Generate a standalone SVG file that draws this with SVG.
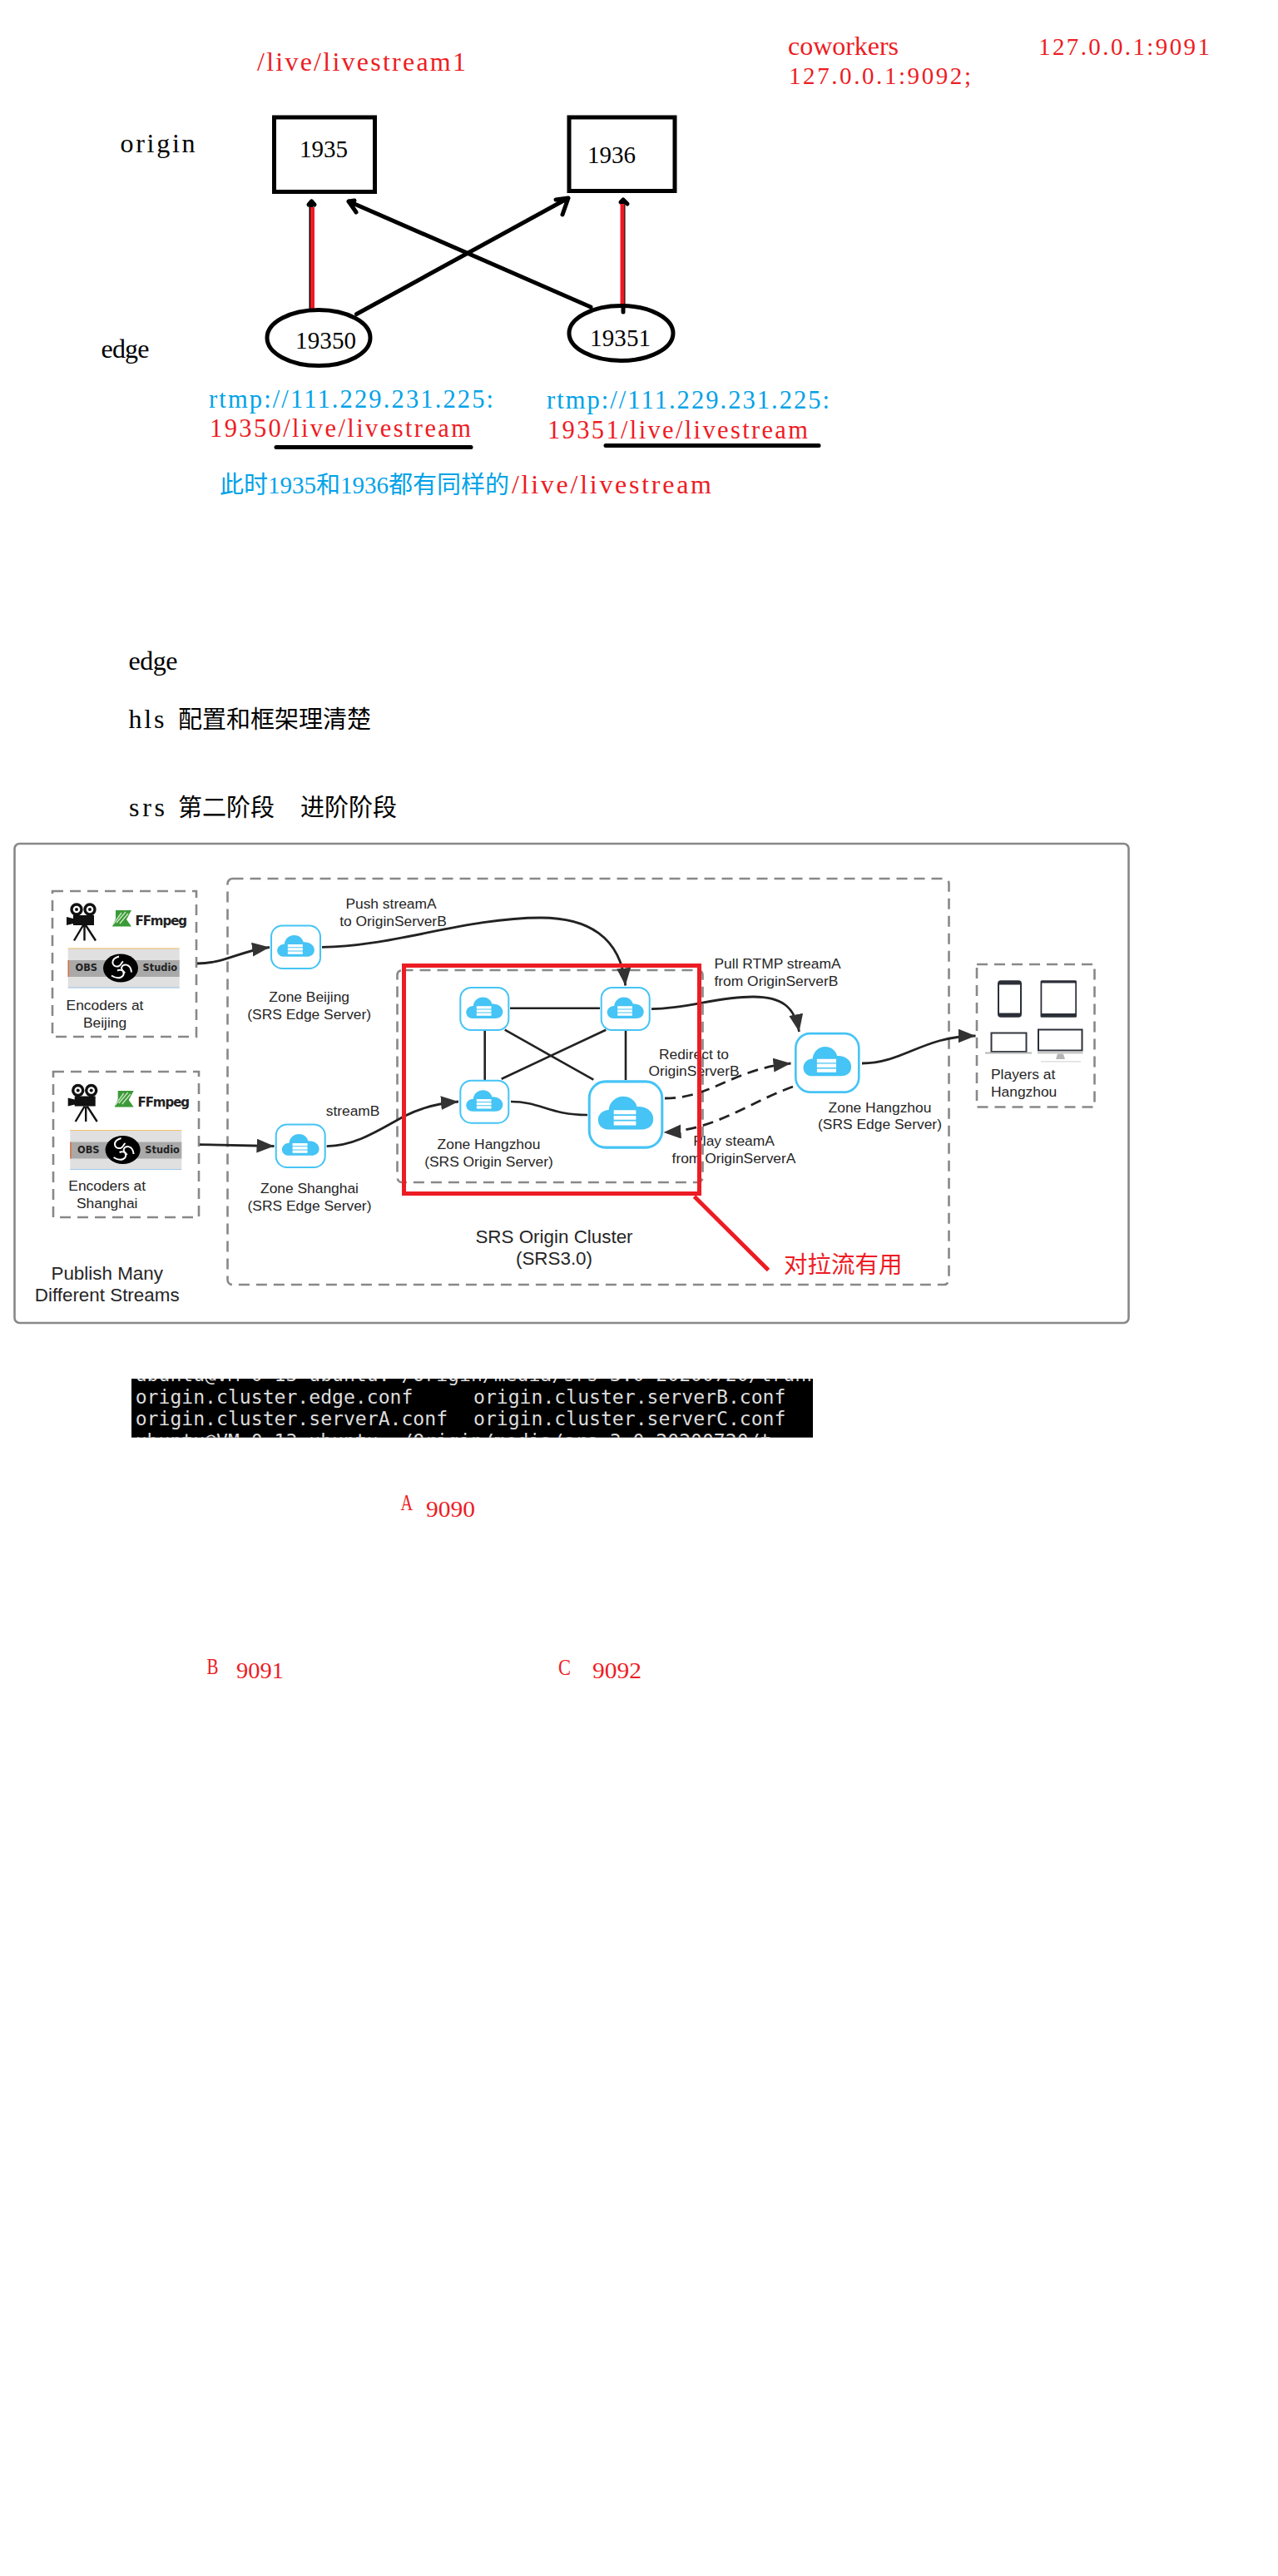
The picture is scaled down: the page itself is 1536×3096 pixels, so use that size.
<svg xmlns="http://www.w3.org/2000/svg" width="1536" height="3096" viewBox="0 0 1536 3096">
<style>
text{white-space:pre}
.s{font-family:"Liberation Serif","Noto Sans CJK SC",serif;font-size:29px;fill:#000}
.w{font-size:32px}
.x{font-size:30.5px}
.r{fill:#ed1c24}
.b{fill:#00a2e8}
.d{font-family:"Liberation Sans",Arial,sans-serif;font-size:17.4px;fill:#262626}
.m{text-anchor:middle}
.t{font-family:"DejaVu Sans Mono",monospace;font-size:23.1px;fill:#dcdcdc}
.h{fill:none;stroke:#000;stroke-width:5}
.hl{fill:none;stroke:#000;stroke-width:5;stroke-linecap:round;stroke-linejoin:round}
.rl{fill:none;stroke:#ed1c24;stroke-width:5}
.dash{fill:none;stroke:#888;stroke-width:2.6;stroke-dasharray:13 8}
.c{fill:none;stroke:#222;stroke-width:2.8}
.cd{fill:none;stroke:#222;stroke-width:2.8;stroke-dasharray:13 8}
.l{fill:none;stroke:#222;stroke-width:2.6}
.ob1{font-family:"DejaVu Sans",sans-serif;font-weight:bold;font-size:11.4px;fill:#222}
.ff{font-family:"DejaVu Sans",sans-serif;font-weight:bold;font-size:15px;fill:#222}
</style>
<defs>
<marker id="ah" markerUnits="userSpaceOnUse" markerWidth="24" markerHeight="18" refX="21" refY="8.5" orient="auto"><path d="M0 0L21 8.5L0 17Z" fill="#333"/></marker>
<symbol id="srv" viewBox="0 0 60 53" preserveAspectRatio="none" overflow="visible">
<rect x="1" y="1" width="58" height="51" rx="13" fill="#fff" stroke="#45c4f5" stroke-width="2"/>
<path d="M16 38C11 38 8 34.5 8 30.5C8 26.5 12 23 16.5 23C17 17 22 12.5 28 12.5C33.5 12.5 38 16 39 20.5C46 20 52 24 52 30C52 35 48 38 43 38Z" fill="#45c4f5"/>
<path d="M20.5 23.2H38.2V26.4H20.5ZM20.5 27.4H38.2V30.6H20.5ZM20.5 31.6H38.2V34.8H20.5Z" fill="#fff"/>
</symbol>
<g id="cam">
<circle cx="12" cy="8" r="6" fill="#fff" stroke="#111" stroke-width="3.4"/><circle cx="28" cy="8" r="6" fill="#fff" stroke="#111" stroke-width="3.4"/>
<circle cx="12" cy="8" r="2" fill="#111"/><circle cx="28" cy="8" r="2" fill="#111"/>
<path d="M8 15H33V27H8ZM0 17L8 19V25L0 27Z" fill="#111"/>
<path d="M20 27L9 45.5M21.5 27V45.5M23 27L35 45.5" fill="none" stroke="#111" stroke-width="2.4"/>
</g>
<g id="ffl">
<path d="M4 0H23L17 11L23 19.5H0L4 10Z" fill="#3c9a38"/>
<path d="M5 15L16 2M9 16L19 4M1 17L11 3" stroke="#c9e6c0" stroke-width="1.4" fill="none"/>
</g>
<g id="obs">
<rect x="0" y="0" width="134" height="48" fill="#e0e0e0"/>
<rect x="0" y="14.5" width="134" height="20" fill="#a9a9a9"/>
<rect x="0" y="0" width="134" height="1" fill="#f5c26b"/>
<rect x="0" y="47" width="134" height="1" fill="#9cc6ea"/>
<rect x="0" y="14.5" width="1.3" height="20" fill="#e8682c"/>
<ellipse cx="63.3" cy="24" rx="21" ry="17" fill="#000"/>
<g transform="translate(63.3 24)" fill="none" stroke="#fff" stroke-width="2"><path d="M-2 -14C-13 -11 -11 -1 -3 -2C1 -3 0 -6 3 -8"/><path d="M13 5C12 -6 2 -6 1 0C1 3 4 4 5 6"/><path d="M-11 9C-2 15 6 10 3 4C2 2 -2 2 -4 3"/></g>
</g>
<clipPath id="term"><rect x="158" y="1657" width="819" height="70.7"/></clipPath>
</defs>
<rect width="1536" height="3096" fill="#fff"/>

<g id="sketch-labels">
<text class="s r w" x="309" y="85" textLength="251">/live/livestream1</text>
<text class="s r w" x="947" y="66" textLength="133">coworkers</text>
<text class="s r" x="1248" y="66" textLength="206">127.0.0.1:9091</text>
<text class="s r" x="948" y="101" textLength="219">127.0.0.1:9092;</text>
<text class="s w" x="144.5" y="183" textLength="90">origin</text>
<text class="s w" x="121.5" y="429.5" textLength="58">edge</text>
<text class="s b x" x="251" y="490" textLength="342">rtmp://111.229.231.225:</text>
<text class="s r x" x="252" y="525" textLength="314">19350/live/livestream</text>
<text class="s b x" x="657" y="491" textLength="340">rtmp://111.229.231.225:</text>
<text class="s r x" x="658" y="526.5" textLength="313">19351/live/livestream</text>
<text class="s b" x="264" y="592.5">此时1935和1936都有同样的</text>
<text class="s r w" x="615" y="592.5" textLength="240">/live/livestream</text>
<text class="s w" x="154.5" y="805" textLength="59">edge</text>
<text class="s w" x="154.5" y="875" textLength="43">hls</text>
<text class="s" x="214" y="875">配置和框架理清楚</text>
<text class="s w" x="155" y="980.5" textLength="43">srs</text>
<text class="s" x="214" y="980.5">第二阶段</text>
<text class="s" x="361" y="980.5">进阶阶段</text>
</g>

<g id="sketch-connectors">
<path class="hl" d="M374 243V370"/>
<path class="hl" d="M371 246L374.5 242L378 246"/>
<path class="rl" d="M375.5 249V372"/>
<path class="hl" d="M749 241V375"/>
<path class="hl" d="M746 243L749 240L754 245"/>
<path class="rl" d="M748 245V367"/>
<path class="hl" d="M710 369L419 242M419 242L428 255M419 242L426 241"/>
<path class="hl" d="M428.5 377.5L683 238M683 238L676 258M683 238L668 240"/>
<path class="hl" d="M332 537.5H566"/>
<path class="hl" d="M728 535.5H984"/>
</g>

<g id="node-1935"><rect class="h" x="329.5" y="141" width="121" height="89.5"/><text class="s" x="360" y="188.5" textLength="58">1935</text></g>
<g id="node-1936"><rect class="h" x="684" y="141" width="127" height="88.5"/><text class="s" x="706" y="196" textLength="58">1936</text></g>
<g id="node-19350"><ellipse class="h" cx="383" cy="406" rx="62" ry="33.5"/><text class="s" x="355" y="418.5" textLength="73">19350</text></g>
<g id="node-19351"><ellipse class="h" cx="746.5" cy="400.5" rx="62.5" ry="33"/><text class="s" x="709" y="416" textLength="73">19351</text></g>

<g id="frame-publish"><rect x="17.5" y="1014" width="1339" height="576" rx="6" fill="none" stroke="#888" stroke-width="2.6"/></g>
<g id="zone-edge"><rect class="dash" x="273.5" y="1056" width="867" height="488" rx="6"/></g>
<g id="zone-origin"><rect class="dash" x="477.5" y="1166" width="367" height="255" rx="6"/></g>

<g id="encoders-beijing">
<rect class="dash" x="63" y="1071" width="173" height="175"/>
<use href="#cam" x="80" y="1085"/>
<use href="#ffl" x="135" y="1094"/>
<text class="ff" x="162.5" y="1112" textLength="62.5">FFmpeg</text>
<use href="#obs" x="81.7" y="1139.5"/>
<text class="ob1" x="90.5" y="1167">OBS</text>
<text class="ob1" x="171.5" y="1167">Studio</text>
<text class="d m" x="126" y="1213.5">Encoders at</text>
<text class="d m" x="126" y="1234.5">Beijing</text>
</g>
<g id="encoders-shanghai">
<rect class="dash" x="64" y="1288" width="175" height="175"/>
<use href="#cam" x="81.7" y="1302.5"/>
<use href="#ffl" x="137.7" y="1311"/>
<text class="ff" x="165.5" y="1329.5" textLength="62.5">FFmpeg</text>
<use href="#obs" x="84.3" y="1358"/>
<text class="ob1" x="93" y="1385.5">OBS</text>
<text class="ob1" x="174.3" y="1385.5">Studio</text>
<text class="d m" x="128.7" y="1431">Encoders at</text>
<text class="d m" x="128.7" y="1452">Shanghai</text>
</g>
<g id="publish-label">
<text class="d m" style="font-size:22.4px" x="128.7" y="1537.5">Publish Many</text>
<text class="d m" style="font-size:22.4px" x="128.7" y="1564">Different Streams</text>
</g>

<g id="connectors">
<path class="c" marker-end="url(#ah)" d="M237 1158C270 1158 288 1143 324 1138.5"/>
<path class="c" marker-end="url(#ah)" d="M240 1375.6L329.5 1377.5"/>
<path class="c" marker-end="url(#ah)" d="M387 1138.3C470 1138 560 1103 650 1103C705 1103 746 1125 751.7 1184.5"/>
<path class="c" marker-end="url(#ah)" d="M392.7 1377.6C430 1377 460 1355 487 1341C505 1332 525 1326 551 1324"/>
<path class="l" d="M613 1211.7H721M582.7 1239V1298M752 1239V1298M606.7 1237.7L713.3 1297.7M728.3 1237.7L602.7 1296.7"/>
<path class="l" d="M614 1324C650 1324 660 1340 706 1340"/>
<path class="c" marker-end="url(#ah)" d="M783 1212.7C830 1212 860 1198 905 1198C940 1198 955 1210 960.5 1240"/>
<path class="cd" marker-end="url(#ah)" d="M799 1320C855 1320 880 1285 950.5 1278"/>
<path class="cd" marker-end="url(#ah)" d="M953 1306C900 1325 860 1358 797.5 1361"/>
<path class="c" marker-end="url(#ah)" d="M1036 1278C1085 1278 1110 1245 1172.5 1245"/>
</g>

<g id="edge-beijing"><use href="#srv" x="325" y="1111.5" width="61" height="53.5"/><text class="d m" x="371.7" y="1204">Zone Beijing</text><text class="d m" x="371.7" y="1225">(SRS Edge Server)</text></g>
<g id="edge-shanghai"><use href="#srv" x="330.7" y="1350.5" width="61" height="53.5"/><text class="d m" x="372" y="1434">Zone Shanghai</text><text class="d m" x="372" y="1454.7">(SRS Edge Server)</text></g>
<g id="origin-a"><use href="#srv" x="552.3" y="1186" width="60" height="53"/></g>
<g id="origin-b"><use href="#srv" x="721.7" y="1186" width="60" height="53"/></g>
<g id="origin-c"><use href="#srv" x="552.3" y="1297.7" width="60" height="53"/></g>
<g id="origin-main"><use href="#srv" x="706.7" y="1298.3" width="90.6" height="82.4"/></g>
<g id="edge-hangzhou"><use href="#srv" x="955" y="1240.7" width="78.6" height="73.3"/><text class="d m" x="1057.5" y="1336.7">Zone Hangzhou</text><text class="d m" x="1057.5" y="1357.3">(SRS Edge Server)</text></g>

<g id="players">
<rect class="dash" x="1174" y="1159" width="141.5" height="171.5"/>
<rect x="1199" y="1178.3" width="29" height="44.5" rx="4" fill="#2b2f38"/><rect x="1201" y="1183.5" width="25" height="34" fill="#fff"/>
<rect x="1250.5" y="1178.3" width="43.5" height="44.5" rx="1.5" fill="#2b2f38"/><rect x="1252.3" y="1181.5" width="40" height="36.5" fill="#fff"/>
<rect x="1191.5" y="1241.5" width="42" height="22.5" fill="#fff" stroke="#33363d" stroke-width="2"/><rect x="1184" y="1264.5" width="56" height="2" fill="#b5b5b5"/>
<rect x="1248" y="1237.5" width="52.5" height="25" fill="#fff" stroke="#2b2f38" stroke-width="2"/><rect x="1247" y="1263.5" width="54.5" height="3" fill="#c8c8c8"/><path d="M1271 1266.5H1278L1280 1273H1269Z" fill="#b5b5b5"/><rect x="1251" y="1275" width="48" height="1.6" fill="#e0e0e0"/>
<text class="d" x="1191" y="1297.3">Players at</text><text class="d" x="1191" y="1318.3">Hangzhou</text>
</g>

<g id="connector-labels">
<text class="d m" x="470" y="1091.7">Push streamA</text>
<text class="d m" x="472.5" y="1112.7">to OriginServerB</text>
<text class="d" x="391.7" y="1341">streamB</text>
<text class="d m" x="587.5" y="1380.7">Zone Hangzhou</text>
<text class="d m" x="587.5" y="1401.7">(SRS Origin Server)</text>
<text class="d m" x="834" y="1272.7">Redirect to</text>
<text class="d m" x="834" y="1293.3">OriginServerB</text>
<text class="d m" x="882" y="1377.3">Play steamA</text>
<text class="d m" x="882" y="1398.3">from OriginServerA</text>
<text class="d" x="858.5" y="1164.3">Pull RTMP streamA</text>
<text class="d" x="858.5" y="1185">from OriginServerB</text>
<text class="d m" style="font-size:22.4px" x="666" y="1494">SRS Origin Cluster</text>
<text class="d m" style="font-size:22.4px" x="666" y="1520">(SRS3.0)</text>
</g>

<g id="red-callout">
<rect x="485.5" y="1160.5" width="355" height="274" fill="none" stroke="#ed1c24" stroke-width="5"/>
<path class="rl" d="M834.5 1438L923.5 1526.5"/>
<text class="s r" x="942" y="1530" style="font-size:28.5px">对拉流有用</text>
</g>

<g id="terminal">
<rect x="158" y="1657" width="819" height="70.7" fill="#000"/>
<g clip-path="url(#term)">
<text class="t" x="162.7" y="1660">ubuntu@VM-0-13-ubuntu:~/Origin/media/srs-3.0-20200720/trunk</text>
<text class="t" x="162.7" y="1686.7">origin.cluster.edge.conf</text>
<text class="t" x="569" y="1686.7">origin.cluster.serverB.conf</text>
<text class="t" x="162.7" y="1713.3">origin.cluster.serverA.conf</text>
<text class="t" x="569" y="1713.3">origin.cluster.serverC.conf</text>
<text class="t" x="162.7" y="1740">ubuntu@VM-0-13-ubuntu:~/Origin/media/srs-3.0-20200720/t</text>
</g>
</g>

<g id="ports">
<text class="s r" style="font-size:28px" x="481.6" y="1815" textLength="14.6" lengthAdjust="spacingAndGlyphs">A</text>
<text class="s r" style="font-size:27px" x="512" y="1822.7" textLength="59" lengthAdjust="spacingAndGlyphs">9090</text>
<text class="s r" style="font-size:28px" x="248.4" y="2011.7" textLength="14" lengthAdjust="spacingAndGlyphs">B</text>
<text class="s r" style="font-size:27px" x="284" y="2016.7" textLength="57" lengthAdjust="spacingAndGlyphs">9091</text>
<text class="s r" style="font-size:28px" x="671" y="2013" textLength="15" lengthAdjust="spacingAndGlyphs">C</text>
<text class="s r" style="font-size:27px" x="712" y="2016.7" textLength="59" lengthAdjust="spacingAndGlyphs">9092</text>
</g>
</svg>
